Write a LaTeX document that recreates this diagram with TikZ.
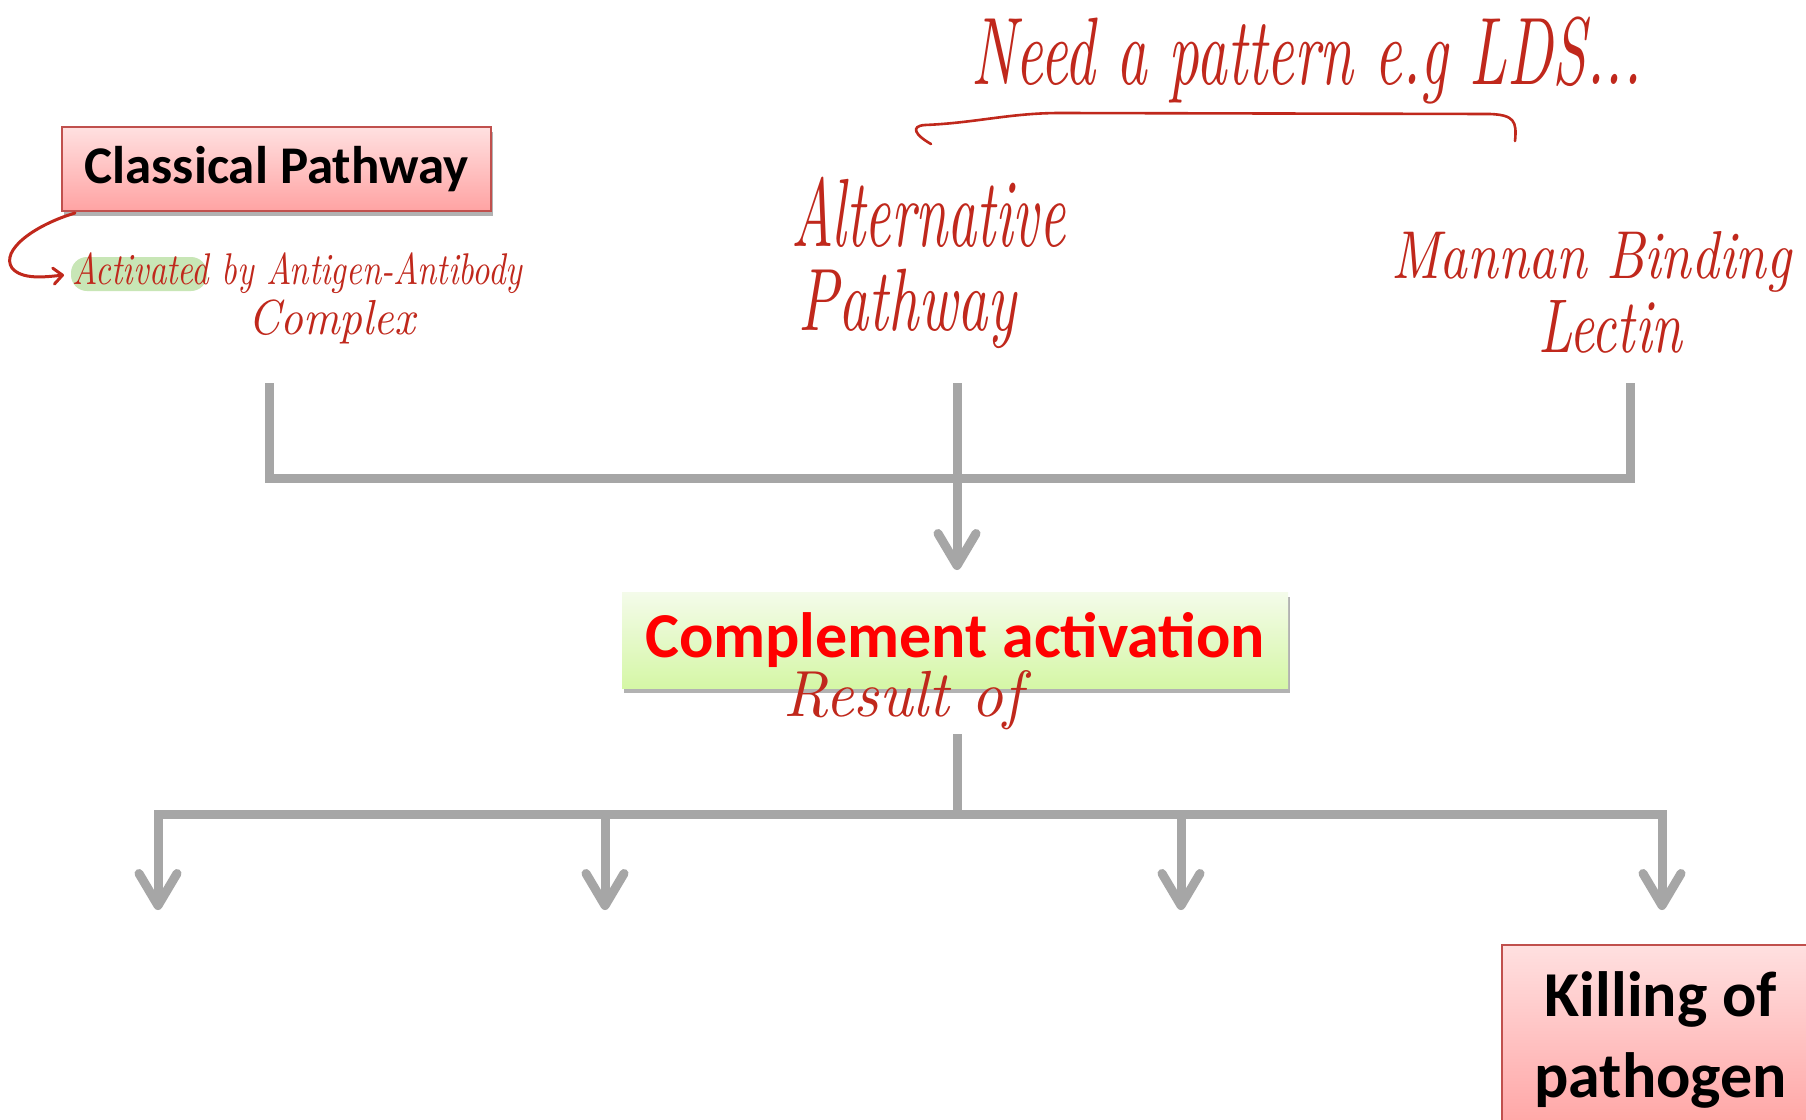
\documentclass[tikz,border=0pt]{standalone}
\usepackage{fontspec}
\usepackage{graphicx}
\usetikzlibrary{arrows.meta,shadows}
\newfontfamily\calib{Carlito}
\definecolor{ink}{HTML}{C0281C}
\definecolor{conngray}{HTML}{A6A6A6}
\definecolor{pinktop}{HTML}{FFE0E0}
\definecolor{pinkbot}{HTML}{FFA3A3}
\definecolor{pinkedge}{HTML}{C0504D}
\definecolor{greentop}{HTML}{F4FBEA}
\definecolor{greenbot}{HTML}{D5F7A6}
\definecolor{hilite}{HTML}{C8E6B6}
\definecolor{compred}{HTML}{FF0000}
% pen-written note: fixed width, stretched vertically
\newcommand\hw[3]{\scalebox{1}[#3]{\resizebox{#1pt}{!}{\itshape #2}}}
\begin{document}
\begin{tikzpicture}[x=1pt,y=-1pt,
  conn/.style={draw=conngray,line width=9pt,line join=miter},
  arr/.style={conn,-{Straight Barb[length=32pt,width=38pt,round]}},
  pinkbox/.style={rectangle,draw=pinkedge,line width=1.5pt,top color=pinktop,bottom color=pinkbot,
    drop shadow={shadow xshift=2pt,shadow yshift=-5pt,opacity=0.3,fill=black}},
  greenbox/.style={rectangle,top color=greentop,bottom color=greenbot,
    drop shadow={shadow xshift=2pt,shadow yshift=-5pt,opacity=0.3,fill=black}},
  hand/.style={inner sep=0pt,text=ink,anchor=base west},
  pen/.style={draw=ink,line width=3pt,line cap=round,line join=round},
  bigfont/.style={font=\calib\bfseries\fontsize{64}{73}\selectfont}]
\useasboundingbox (0,0) rectangle (1806,1119);
\clip (0,0) rectangle (1806,1119);
\fill[white] (0,0) rectangle (1806,1119);

% --- boxes ---
\node[pinkbox,minimum width=429pt,minimum height=84pt,
  font=\calib\bfseries\fontsize{53}{60}\selectfont] (classical) at (276.5,169) {Classical Pathway};
\node[greenbox,minimum width=666pt,minimum height=96pt,text=compred,bigfont] (complement) at (955,640) {Complement activation};
\node[pinkbox,anchor=north west,minimum width=318pt,minimum height=190pt,align=center,
  font=\calib\bfseries\fontsize{64}{81}\selectfont] (killing) at (1501,944) {Killing of\\pathogen};

% --- pen notes ---
\fill[hilite,rounded corners=16pt] (71,257) rectangle (207,291);
\node[hand] (activated) at (72,284) {\hw{450}{Activated by Antigen-Antibody}{1.3}};
\node[hand] (complex) at (248,334) {\hw{167}{Complex}{1.1}};
\node[hand] (alt) at (791,246) {\hw{274}{Alternative}{1.7}};
\node[hand] (altpath) at (798,330) {\hw{218}{Pathway}{1.5}};
\node[hand] (mannan) at (1391,278) {\hw{400}{Mannan Binding}{1.25}};
\node[hand] (lectin) at (1538,352) {\hw{144}{Lectin}{1.4}};
\node[hand] (need) at (971,84) {\hw{670}{Need a pattern e.g LDS...}{1.6}};
\node[hand] (result) at (783,716) {\hw{239}{Result of}{1.05}};

% hooked pointer from the classical box to its note
\coordinate (hookstart) at (75,213);
\coordinate (hookend) at (64,275);
\draw[pen,-{Straight Barb[length=9pt,width=16pt,round]}] (hookstart)
  .. controls (35,225) and (0,250) .. (12,268)
  .. controls (22,280) and (45,277) .. (hookend);

% brace over the two lectin-free pathways
\coordinate (braceL) at (931,144);
\coordinate (braceR) at (1515,141);
\draw[pen,line width=2.6pt] (braceL) .. controls (915,135) and (910,126) .. (925,125)
  .. controls (975,123) and (1010,113) .. (1060,113) -- (1490,114)
  .. controls (1514,115) and (1517,121) .. (braceR);

% --- connectors into complement activation ---
\coordinate (t1) at (269.5,383);
\coordinate (t2) at (957,383);
\coordinate (t3) at (1630,383);
\coordinate (j1) at (269.5,478);
\coordinate (j2) at (957,478);
\coordinate (j3) at (1630,478);
\coordinate (intip) at (957,570);
\draw[conn] (t1) -- (j1) -- (j3) -- (t3);
\draw[conn] (t2) -- (j2);
\draw[arr] (j2) -- (intip);

% --- connectors out of complement activation ---
\coordinate (outtop) at (957,734);
\coordinate (outj) at (957,814);
\coordinate (b1) at (158,814);
\coordinate (b2) at (605,814);
\coordinate (b3) at (1181,814);
\coordinate (b4) at (1662,814);
\coordinate (e1) at (158,910);
\coordinate (e2) at (605,910);
\coordinate (e3) at (1181,910);
\coordinate (e4) at (1662,910);
\draw[conn] (outtop) -- (outj);
\draw[conn,line cap=rect] (b1) -- (b4);
\foreach \i in {1,...,4} \draw[arr] (b\i) -- (e\i);
\end{tikzpicture}
\end{document}
